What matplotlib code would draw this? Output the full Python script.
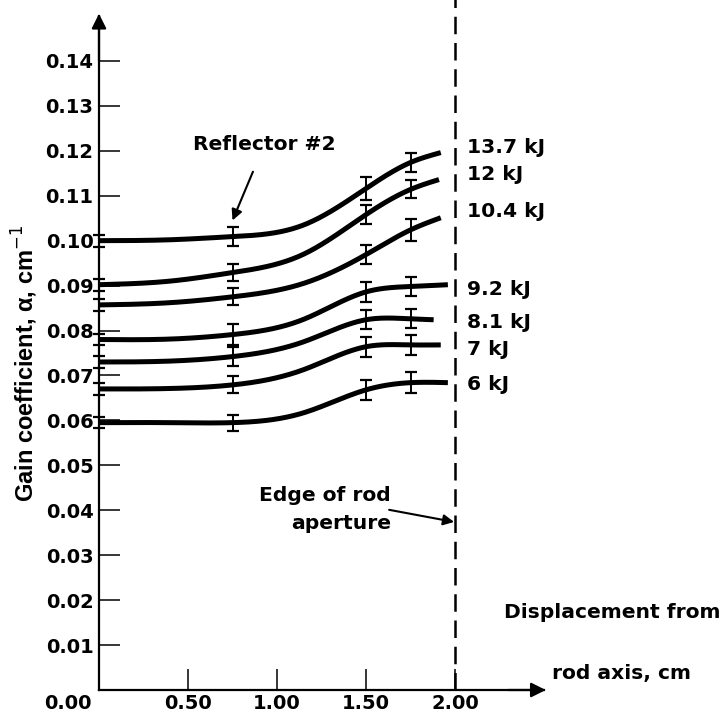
import numpy as np
import matplotlib
matplotlib.use("Agg")
import matplotlib.pyplot as plt

# ---------------- data ----------------
labels = ["13.7 kJ", "12 kJ", "10.4 kJ", "9.2 kJ", "8.1 kJ", "7 kJ", "6 kJ"]
x_nodes = [0.0, 0.4, 0.75, 1.15, 1.5, 1.75]
x_end = [1.92, 1.91, 1.92, 1.96, 1.88, 1.92, 1.96]

g_137 = [0.1000, 0.1002, 0.1009, 0.1035, 0.1116, 0.1174, 0.1196]
g_12 = [0.0902, 0.0910, 0.0929, 0.0970, 0.1058, 0.1114, 0.1136]
g_104 = [0.0857, 0.0862, 0.0875, 0.0905, 0.0969, 0.1024, 0.1051]
g_92 = [0.0780, 0.0781, 0.0791, 0.0825, 0.0886, 0.0898, 0.0902]
g_81 = [0.0730, 0.0732, 0.0742, 0.0775, 0.0824, 0.0826, 0.0824]
g_7 = [0.0670, 0.0671, 0.0679, 0.0713, 0.0764, 0.0768, 0.0768]
g_6 = [0.0595, 0.0595, 0.0595, 0.0617, 0.0668, 0.0684, 0.0684]
curves = [g_137, g_12, g_104, g_92, g_81, g_7, g_6]

err_x = [0.0, 0.75, 1.5, 1.75]
e_137 = [0.0013, 0.0021, 0.0025, 0.0021]
e_12 = [0.0013, 0.0019, 0.0021, 0.0020]
e_104 = [0.0013, 0.0019, 0.0022, 0.0024]
e_92 = [0.0013, 0.0024, 0.0022, 0.0022]
e_81 = [0.0013, 0.0022, 0.0021, 0.0021]
e_7 = [0.0013, 0.0019, 0.0022, 0.0022]
e_6 = [0.0013, 0.0018, 0.0022, 0.0024]
errs = [e_137, e_12, e_104, e_92, e_81, e_7, e_6]

label_y = [0.1207, 0.1147, 0.1065, 0.0891, 0.0817, 0.0757, 0.0679]

x_ticks = [0.5, 1.0, 1.5, 2.0]
x_ticklabels = ["0.50", "1.00", "1.50", "2.00"]
y_ticks = [0.01, 0.02, 0.03, 0.04, 0.05, 0.06, 0.07, 0.08, 0.09, 0.10,
           0.11, 0.12, 0.13, 0.14]
y_ticklabels = ["0.01", "0.02", "0.03", "0.04", "0.05", "0.06", "0.07",
                "0.08", "0.09", "0.10", "0.11", "0.12", "0.13", "0.14"]


def natural_spline(x, y, xs):
    x = np.asarray(x, float)
    y = np.asarray(y, float)
    n = len(x)
    h = np.diff(x)
    A = np.zeros((n, n))
    b = np.zeros(n)
    A[0, 0] = 1.0
    A[-1, -1] = 1.0
    for i in range(1, n - 1):
        A[i, i - 1] = h[i - 1]
        A[i, i] = 2 * (h[i - 1] + h[i])
        A[i, i + 1] = h[i]
        b[i] = 6 * ((y[i + 1] - y[i]) / h[i] - (y[i] - y[i - 1]) / h[i - 1])
    M = np.linalg.solve(A, b)
    out = np.empty_like(xs)
    for j, xv in enumerate(xs):
        k = min(max(np.searchsorted(x, xv) - 1, 0), n - 2)
        t1 = x[k + 1] - xv
        t0 = xv - x[k]
        out[j] = (M[k] * t1**3 / (6 * h[k]) + M[k + 1] * t0**3 / (6 * h[k])
                  + (y[k] / h[k] - M[k] * h[k] / 6) * t1
                  + (y[k + 1] / h[k] - M[k + 1] * h[k] / 6) * t0)
    return out


# ---------------- figure ----------------
fig = plt.figure(figsize=(7.27, 7.2), dpi=100)
ax = fig.add_axes([99 / 727, 30 / 720, (544 - 99) / 727, (690 - 16) / 720])
ax.set_xlim(0, 2.5)
ax.set_ylim(0, 0.150)

tick_font = dict(family="DejaVu Sans", fontweight="bold", fontsize=14)
bold = dict(family="DejaVu Sans", fontweight="bold", fontsize=14.6)

for g, e, xe, lab, ly in zip(curves, errs, x_end, labels, label_y):
    xn = x_nodes + [xe]
    xs = np.linspace(0, xe, 300)
    ys = natural_spline(xn, g, xs)
    ax.plot(xs, ys, color="black", lw=3.6, solid_capstyle="butt", clip_on=False, zorder=3)
    ey = [g[x_nodes.index(v)] for v in err_x]
    ax.errorbar(err_x, ey, yerr=e, fmt="none", ecolor="black", elinewidth=1.4,
                capsize=4.3, capthick=1.6, clip_on=False, zorder=4)
    ax.text(2.07, ly, lab, ha="left", va="center", **bold)

# axes styling
for s in ["top", "right"]:
    ax.spines[s].set_visible(False)
for s in ["left", "bottom"]:
    ax.spines[s].set_linewidth(1.6)

ax.set_xticks(x_ticks)
ax.set_xticklabels(x_ticklabels, **tick_font)
ax.set_yticks(y_ticks)
ax.set_yticklabels(y_ticklabels, **tick_font)
ax.tick_params(axis="both", direction="in", length=15, width=1.1)
ax.tick_params(axis="y", pad=4)
ax.tick_params(axis="x", pad=3)

ax.text(-0.175, -0.0030, "0.00", ha="center", va="center", **tick_font)

# axis arrows
ax.annotate("", xy=(2.51, 0), xytext=(2.3, 0), xycoords="data",
            arrowprops=dict(arrowstyle="-|>", color="black", lw=1.6,
                            mutation_scale=22, shrinkA=0, shrinkB=0),
            annotation_clip=False)
ax.annotate("", xy=(0, 0.1505), xytext=(0, 0.140), xycoords="data",
            arrowprops=dict(arrowstyle="-|>", color="black", lw=1.6,
                            mutation_scale=22, shrinkA=0, shrinkB=0),
            annotation_clip=False)

# aperture edge
ax.plot([2.0, 2.0], [0, 0.1537], color="black", lw=1.8, ls=(0, (7, 3.5)), clip_on=False, zorder=2)

fig.text(25 / 727, 1 - 363 / 720, "Gain coefficient, α, cm$^{-1}$", rotation=90,
         ha="center", va="center", fontsize=17, family="Liberation Sans", fontweight="bold")

ax.annotate("Reflector #2", xy=(0.75, 0.1045), xytext=(0.93, 0.1215),
            ha="center", va="center", **bold,
            arrowprops=dict(arrowstyle="-|>", color="black", lw=1.5,
                            mutation_scale=16, shrinkA=12, shrinkB=0))

ax.text(1.27, 0.0433, "Edge of rod", ha="center", va="center", **bold)
ax.text(1.36, 0.0371, "aperture", ha="center", va="center", **bold)
ax.annotate("", xy=(1.995, 0.0374), xytext=(1.63, 0.0401),
            arrowprops=dict(arrowstyle="-|>", color="black", lw=1.5,
                            mutation_scale=16, shrinkA=0, shrinkB=0))

fig.text(612 / 727, 1 - 613 / 720, "Displacement from", ha="center", va="center", **bold)
fig.text(621 / 727, 1 - 673 / 720, "rod axis, cm", ha="center", va="center", **bold)

fig.savefig("out.png", dpi=100)
